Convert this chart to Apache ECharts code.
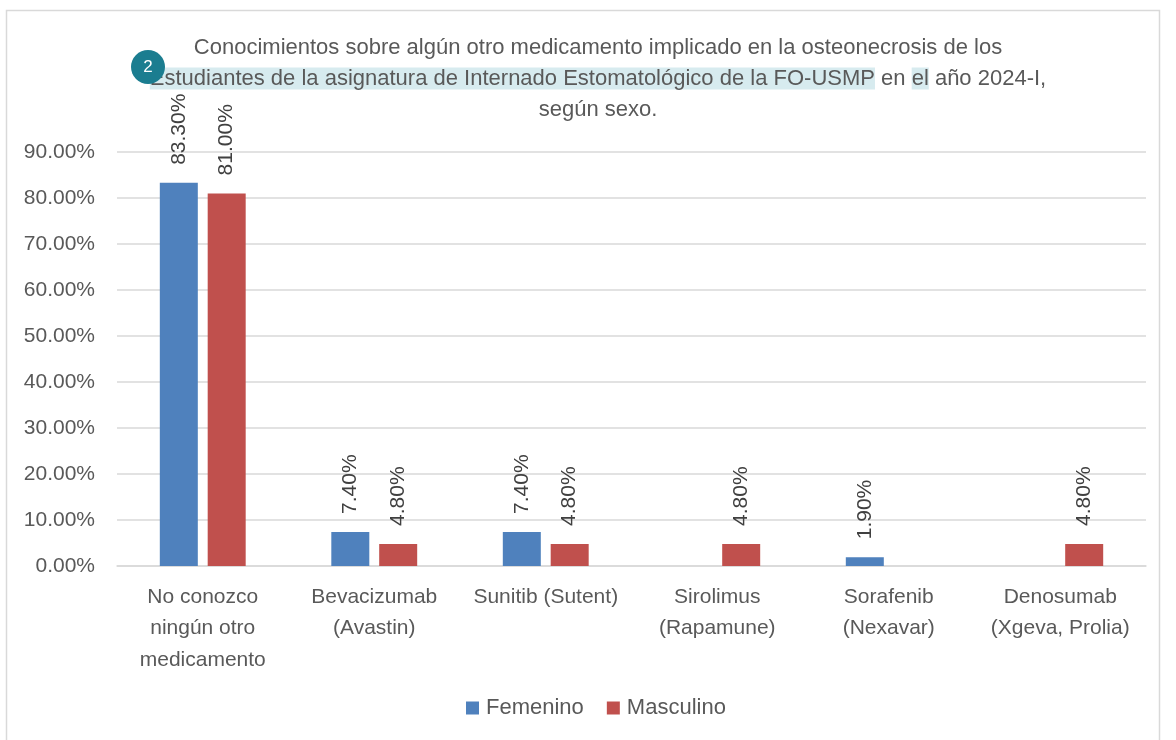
<!DOCTYPE html>
<html>
<head>
<meta charset="utf-8">
<script src="https://cdn.jsdelivr.net/npm/echarts@6/dist/echarts.min.js"></script>
<style>
  html, body { margin: 0; padding: 0; background: #fff; }
  #chart { width: 1176px; height: 740px; }
</style>
</head>
<body>
<div id="chart"></div>
<script>
// categorias y valores (%)
const categories = [
  "No conozco\nningún otro\nmedicamento",
  "Bevacizumab\n(Avastin)",
  "Sunitib (Sutent)",
  "Sirolimus\n(Rapamune)",
  "Sorafenib\n(Nexavar)",
  "Denosumab\n(Xgeva, Prolia)",
];
const femenino = [83.3, 7.4, 7.4, null, 1.9, null];
const masculino = [81.0, 4.8, 4.8, 4.8, null, 4.8];
const seriesNames = ["Femenino", "Masculino"];

const font = "Liberation Sans, Arial, sans-serif";

const chart = echarts.init(document.getElementById("chart"));

// etiqueta rotada encima de la barra
const barLabel = {
  show: true,
  position: "top",
  rotate: 90,
  align: "left",
  verticalAlign: "middle",
  distance: 18,
  fontFamily: font,
  fontSize: 21,
  color: "#404040",
  formatter: (p) => p.value.toFixed(2) + "%",
};

chart.setOption({
  animation: false,
  title: {
    text:
      "Conocimientos sobre algún otro medicamento implicado en la osteonecrosis de los\n" +
      "{hl|Estudiantes de la asignatura de Internado Estomatológico de la FO-USMP} en {hl|el} año 2024-I,\n" +
      "según sexo.",
    left: 593,
    top: 27,
    textAlign: "center",
    textStyle: {
      fontFamily: font,
      fontSize: 22,
      fontWeight: "normal",
      color: "#595959",
      lineHeight: 31,
      rich: {
        hl: {
          backgroundColor: "#d7ebef",
          fontFamily: font,
          fontSize: 22,
          color: "#595959",
          lineHeight: 31,
        },
      },
    },
  },
  legend: {
    data: seriesNames,
    top: 692,
    left: 461,
    itemWidth: 13,
    itemHeight: 13,
    itemGap: 23,
    icon: "rect",
    textStyle: { fontFamily: font, fontSize: 22, color: "#595959", padding: [0, 0, 0, 2] },
  },
  grid: { left: 117, right: 30, top: 152, bottom: 174 },
  xAxis: {
    type: "category",
    data: categories,
    axisTick: { show: false },
    axisLine: { lineStyle: { color: "#d9d9d9", width: 1.5 } },
    axisLabel: {
      fontFamily: font,
      fontSize: 21,
      color: "#595959",
      lineHeight: 31.5,
      margin: 15,
      interval: 0,
    },
  },
  yAxis: {
    type: "value",
    min: 0,
    max: 90,
    interval: 10,
    axisLine: { show: false },
    axisTick: { show: false },
    splitLine: { lineStyle: { color: "#d9d9d9", width: 1.5 } },
    axisLabel: {
      fontFamily: font,
      fontSize: 21,
      color: "#595959",
      margin: 22,
      formatter: (v) => v.toFixed(2) + "%",
    },
  },
  series: [
    {
      name: seriesNames[0],
      type: "bar",
      data: femenino,
      barWidth: 38,
      barGap: "26%",
      itemStyle: { color: "#4f81bd" },
      label: barLabel,
    },
    {
      name: seriesNames[1],
      type: "bar",
      data: masculino,
      barWidth: 38,
      itemStyle: { color: "#c0504d" },
      label: barLabel,
    },
  ],
  graphic: [
    {
      type: "rect",
      shape: { x: 6.5, y: 10.5, width: 1153, height: 740 },
      style: { fill: null, stroke: "#d9d9d9", lineWidth: 1.5 },
      silent: true,
      z: -1,
    },
    {
      type: "circle",
      shape: { cx: 148, cy: 67, r: 17 },
      style: { fill: "#1b7d90" },
      z: 100,
    },
    {
      type: "text",
      x: 148,
      y: 67,
      style: {
        text: "2",
        fill: "#fff",
        fontFamily: font,
        fontSize: 17,
        align: "center",
        verticalAlign: "middle",
      },
      z: 101,
    },
  ],
});
</script>
</body>
</html>
